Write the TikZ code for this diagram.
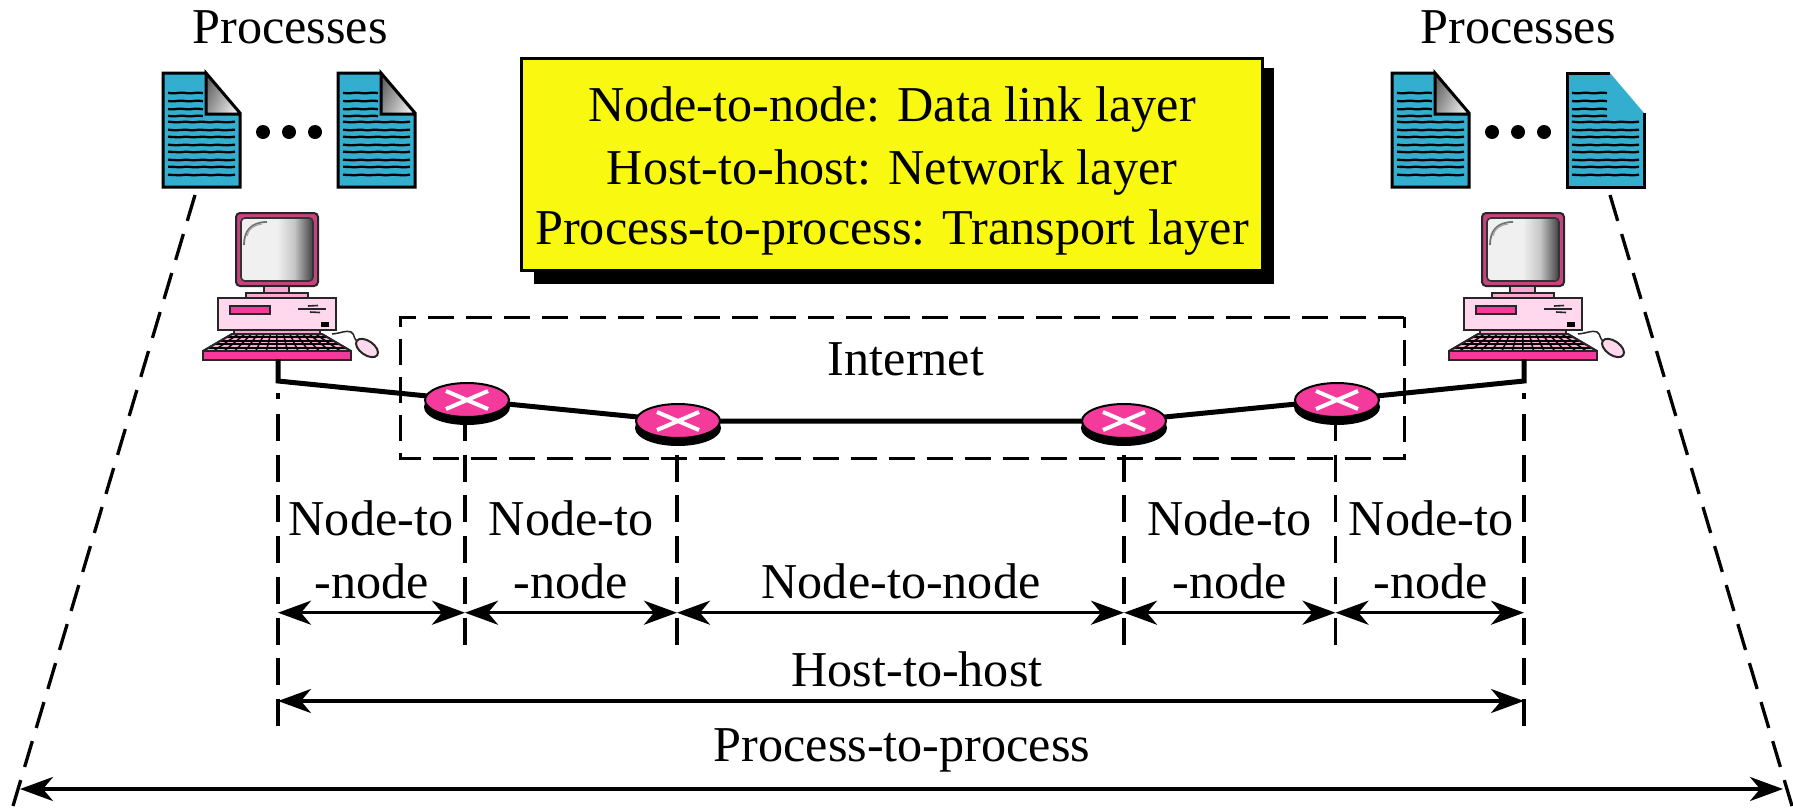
\documentclass[tikz,border=0pt]{standalone}
\usepackage{fontspec}
\setmainfont{Liberation Serif}
\usetikzlibrary{arrows.meta,shapes.geometric,calc}
\definecolor{docblue}{HTML}{33AECF}
\definecolor{boxyellow}{HTML}{F8F810}
\definecolor{hotpink}{HTML}{F43B9C}
\definecolor{lightpink}{HTML}{FFD8EE}
\definecolor{midpink}{HTML}{FBA8D4}
\definecolor{framepink}{HTML}{C4447F}
\pgfdeclarehorizontalshading{screenshade}{100bp}{color(0bp)=(gray!12);color(50bp)=(gray!12);color(62bp)=(gray!45);color(75bp)=(black!75);color(100bp)=(black!75)}
\tikzset{
  lbl/.style={font=\fontsize{50.2}{60}\selectfont,anchor=base,inner sep=0pt,text=black},
  dashline/.style={line width=3.3pt,dash pattern=on 27pt off 13.7pt},
  dimarrow/.style={line width=3.5pt,{Stealth[length=33pt,width=24pt,inset=10pt]}-{Stealth[length=33pt,width=24pt,inset=10pt]},shorten >=0pt,shorten <=0pt},
  wire/.style={line width=5pt},
  routertop/.style={ellipse,draw=black,line width=2pt,fill=hotpink,minimum width=84pt,minimum height=34pt,inner sep=0pt},
  routershadow/.style={ellipse,draw=black,line width=2pt,fill=black,minimum width=84pt,minimum height=34pt,inner sep=0pt},
  crossx/.style={white,line width=4pt},
  keyline/.style={black,line width=1.5pt},
  part/.style={draw=black!85,line width=2pt}
}
\newcommand{\DocLines}{%
  \foreach \yy/\xe in {20/40,28/40,36/40,43/40,49/72,57/72,64/72,72/72,79/72,87/72,94/72,102/72}{
    \draw[black,line width=2.3pt] plot[domain=5:\xe,samples=12,smooth] (\x,{\yy+0.35*sin(\x*22+\yy*47)});
  }}
\newcommand{\DocIcon}[1]{%
  \begin{scope}[shift={(#1,73)}]
    \fill[docblue] (0,0)--(43,0)--(43,41)--(77,41)--(77,114)--(0,114)--cycle;
    \DocLines
    \shade[left color=black!60,right color=white!92!black,shading angle=65] (43,0)--(77,40)--(43,40)--cycle;
    \draw[black,line width=3pt,line join=miter] (43,0)--(0,0)--(0,114)--(77,114)--(77,40)--(43,0)--(43,41)--(77,41);
  \end{scope}}
\newcommand{\DocIconOpen}[1]{%
  \begin{scope}[shift={(#1,73)}]
    \fill[docblue] (0,0)--(43,0)--(77,40)--(77,114)--(0,114)--cycle;
    \DocLines
    \draw[black,line width=3pt,line join=miter] (43,0)--(0,0)--(0,114)--(77,114)--(77,40);
  \end{scope}}
\newcommand{\Computer}[1]{%
  \begin{scope}[shift={(#1,0)}]
    % mouse cable and mouse
    \draw[black!85,line width=1.5pt] (332,334) .. controls (342,333) and (346,330) .. (351,332) .. controls (356,335) and (352,339) .. (359,342);
    \draw[part,fill=lightpink,rotate around={-35:(367,348)}] (367,348) ellipse (12.5 and 7);
    % monitor
    \draw[part,fill=framepink,rounded corners=4pt] (236,213) rectangle (318,286);
    \shade[shading=screenshade,draw=black!80,line width=1.6pt,rounded corners=4pt] (241,218) rectangle (313,281);
    \draw[black!55,line width=1.8pt] (244,245) .. controls (244,232) and (250,222) .. (267,222);
    \draw[black!35,line width=1.2pt] (247,236) .. controls (248,229) and (254,225) .. (262,224);
    \draw[part,fill=midpink] (264,286) rectangle (289,293);
    \draw[part,fill=midpink] (246,293) rectangle (308,298);
    % case
    \draw[part,fill=lightpink] (218,298) rectangle (336,330);
    \draw[part,fill=hotpink] (229.5,305.5) rectangle (270,314);
    \draw[black!85,line width=2.4pt] (298,309) -- (326,309);
    \draw[black!85,line width=1.6pt] (308,306) -- (318,305.5) (310,312) -- (320,312.5);
    \fill[black] (321,322) rectangle (329,326.5);
    % keyboard
    \draw[part,fill=midpink] (234,330) rectangle (320,334);
    \fill[midpink] (232,334) -- (322,334) -- (351,351) -- (203,351) -- cycle;
    \foreach \t in {0.2,0.4,0.6,0.8}{
      \draw[keyline,line width=2pt] ($(232,334)!\t!(203,351)$) -- ($(322,334)!\t!(351,351)$);
    }
    \foreach \t in {0,0.0714,...,1.01}{
      \draw[keyline] ($(232,334)!\t!(322,334)$) -- ($(203,351)!\t!(351,351)$);
    }
    \draw[part,line join=round] (232,334) -- (322,334) -- (351,351) -- (203,351) -- cycle;
    \draw[part,fill=hotpink] (203,351) rectangle (351,359.5);
  \end{scope}}
\begin{document}
\begin{tikzpicture}[x=1pt,y=-1pt]
\useasboundingbox (0,0) rectangle (1793,809);
% ---- anchors
\coordinate (pl) at (278,359);
\coordinate (pr) at (1524,359);
\coordinate (jl) at (278,381);
\coordinate (jr) at (1524,381);
\foreach \n/\xx in {a/278,b/465,c/677,d/1124,e/1335.5,f/1524}{
  \coordinate (\n0) at (\xx,612.7);
}
\coordinate (hl) at (278,701);
\coordinate (hr) at (1524,701);
\coordinate (ol) at (20,789);
\coordinate (or) at (1783,789);
% ---- vertical dashed leaders
\draw[dashline] (278,393) -- (278,398.5);
\draw[dashline] (278,414) -- (278,727);
\draw[dashline] (1524,393) -- (1524,398.5);
\draw[dashline] (1524,414) -- (1524,727);
\draw[dashline] (465,414) -- (465,648);
\draw[dashline] (677,414) -- (677,648);
\draw[dashline] (1124,414) -- (1124,648);
\draw[dashline] (1335.5,414) -- (1335.5,648);
% ---- outer dashed lines
\draw[dashline] (195,195) -- (13,806);
\draw[dashline] (1610,195) -- (1792,806);
% ---- internet cloud
\draw[line width=3pt,dash pattern=on 26pt off 12pt] (1404,317) -- (400,317) -- (400,458.5) -- (1404,458.5) -- cycle;
% ---- note box
\fill[black] (534,68) rectangle (1274,284);
\node[draw=black,line width=3pt,fill=boxyellow,minimum width=741pt,minimum height=212pt,inner sep=0pt] (note) at (892,164) {};
\node[lbl] (n1) at (892,121) {Node-to-node: Data link layer};
\node[lbl] (n2) at (892,184) {Host-to-host: Network layer};
\node[lbl] (n3) at (892,244) {Process-to-process: Transport layer};
% ---- computers
\Computer{0}
\Computer{1246}
% ---- routers (shadow + top)
\foreach \n/\xx/\yy in {r1/467/400,r2/678/421,r3/1124/421,r4/1337/400}{
  \node[routertop,fill=none,draw=none] (\n) at (\xx,\yy) {};
}
\draw[wire] (pl) -- (jl) -- (r1.center) -- (r2.center) -- (r3.center) -- (r4.center) -- (jr) -- (pr);
\foreach \n/\xx/\yy in {r1/467/400,r2/678/421,r3/1124/421,r4/1337/400}{
  \node[routershadow] at (\xx,\yy+7) {};
  \node[routertop] at (\xx,\yy) {};
  \draw[crossx] ($(\n.center)+(-21,-9)$) -- ($(\n.center)+(21,9)$);
  \draw[crossx] ($(\n.center)+(-21,9)$) -- ($(\n.center)+(21,-9)$);
}
% ---- documents
\DocIcon{163}
\DocIcon{338}
\DocIcon{1392}
\DocIconOpen{1567}
\foreach \xx in {263,289,315,1492,1518,1544}{
  \fill[black] (\xx,132) circle (7);
}
% ---- labels
\node[lbl] (pa) at (290,43) {Processes};
\node[lbl] (pb) at (1518,43) {Processes};
\node[lbl] (inet) at (906,375) {Internet};
\node[lbl] (t1a) at (371,535) {Node-to};
\node[lbl] (t1b) at (372,598) {-node};
\node[lbl] (t2a) at (571,535) {Node-to};
\node[lbl] (t2b) at (571,598) {-node};
\node[lbl] (t3) at (901,598) {Node-to-node};
\node[lbl] (t4a) at (1229.5,535) {Node-to};
\node[lbl] (t4b) at (1229.5,598) {-node};
\node[lbl] (t5a) at (1431,535) {Node-to};
\node[lbl] (t5b) at (1431,598) {-node};
\node[lbl] (hh) at (917,686) {Host-to-host};
\node[lbl] (pp) at (902,761) {Process-to-process};
% ---- dimension arrows
\draw[dimarrow] (a0) -- (b0);
\draw[dimarrow] (b0) -- (c0);
\draw[dimarrow] (c0) -- (d0);
\draw[dimarrow] (d0) -- (e0);
\draw[dimarrow] (e0) -- (f0);
\draw[dimarrow] (hl) -- (hr);
\draw[dimarrow] (ol) -- (or);
\end{tikzpicture}
\end{document}
